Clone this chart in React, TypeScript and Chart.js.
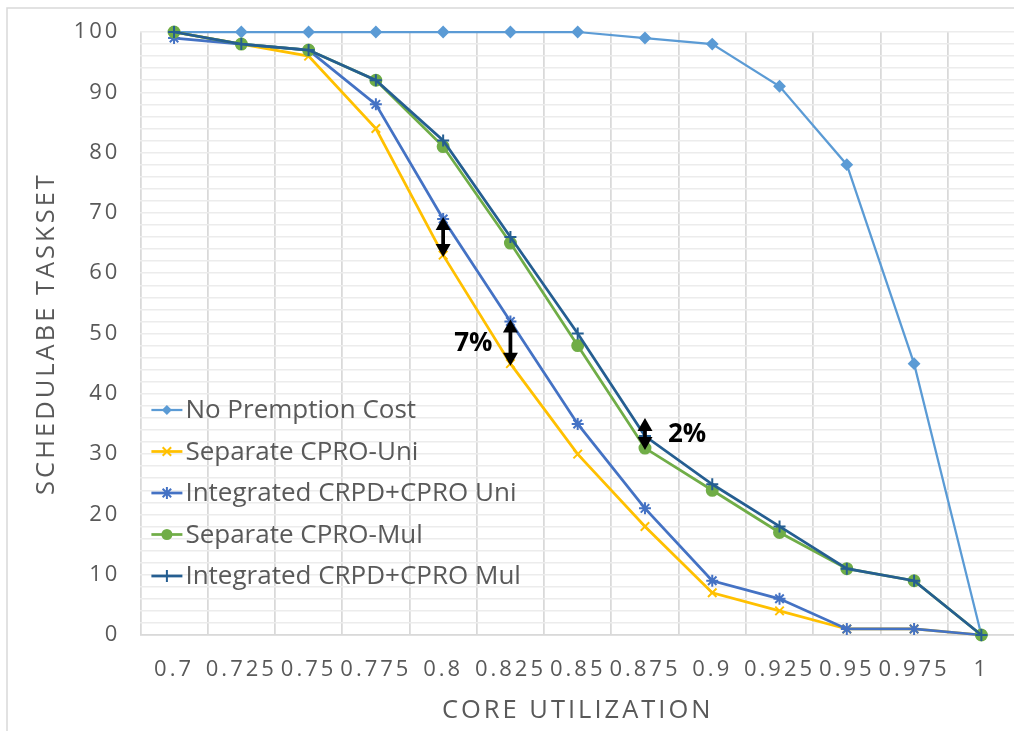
import { useEffect, useRef } from 'react';
import { Chart, registerables } from 'chart.js';

Chart.register(...registerables);

// Core utilization categories (x axis)
const utilization = ['0.7', '0.725', '0.75', '0.775', '0.8', '0.825', '0.85', '0.875', '0.9', '0.925', '0.95', '0.975', '1'];

// Schedulable tasksets (%) per method
const noPreemption = [100, 100, 100, 100, 100, 100, 100, 99, 98, 91, 78, 45, 0];
const separateUni = [100, 98, 96, 84, 63, 45, 30, 18, 7, 4, 1, 1, 0];
const integratedUni = [99, 98, 97, 88, 69, 52, 35, 21, 9, 6, 1, 1, 0];
const separateMul = [100, 98, 97, 92, 81, 65, 48, 31, 24, 17, 11, 9, 0];
const integratedMul = [100, 98, 97, 92, 82, 66, 50, 33, 25, 18, 11, 9, 0];

// Y axis range and labelled tick interval; grid every 2
const yMin = 0;
const yMax = 100;
const yLabelStep = 10;
const yGridStep = 2;

// Gap markers: category index, upper series, lower series, label side (0 = no label)
const gapIndex = [4, 5, 7];
const gapUpper = [integratedUni, integratedUni, integratedMul];
const gapLower = [separateUni, separateUni, separateMul];
const gapLabelSide = [0, -1, 1];

const FONT = "'Open Sans', 'DejaVu Sans', sans-serif";
const TEXT = '#595959';
const AXIS_SPACING = '3px';

function drawMarker(ctx: CanvasRenderingContext2D, style: string, x: number, y: number, r: number, color: string) {
  ctx.save();
  ctx.fillStyle = color;
  ctx.strokeStyle = color;
  ctx.lineWidth = 2;
  ctx.beginPath();
  if (style === 'rectRot') {
    ctx.moveTo(x, y - r);
    ctx.lineTo(x + r, y);
    ctx.lineTo(x, y + r);
    ctx.lineTo(x - r, y);
    ctx.closePath();
    ctx.fill();
  } else if (style === 'circle') {
    ctx.arc(x, y, r, 0, Math.PI * 2);
    ctx.fill();
  } else {
    const d = r * Math.SQRT1_2;
    if (style === 'cross' || style === 'star') {
      ctx.moveTo(x - r, y);
      ctx.lineTo(x + r, y);
      ctx.moveTo(x, y - r);
      ctx.lineTo(x, y + r);
    }
    if (style === 'crossRot' || style === 'star') {
      ctx.moveTo(x - d, y - d);
      ctx.lineTo(x + d, y + d);
      ctx.moveTo(x - d, y + d);
      ctx.lineTo(x + d, y - d);
    }
    ctx.stroke();
  }
  ctx.restore();
}

function drawDoubleArrow(ctx: CanvasRenderingContext2D, x: number, top: number, bottom: number) {
  const headLen = 13;
  const headHalf = 7.5;
  ctx.save();
  ctx.fillStyle = '#000000';
  ctx.strokeStyle = '#000000';
  ctx.lineWidth = 3.75;
  ctx.beginPath();
  ctx.moveTo(x, top + headLen - 1);
  ctx.lineTo(x, bottom - headLen + 1);
  ctx.stroke();
  ctx.beginPath();
  ctx.moveTo(x, top);
  ctx.lineTo(x + headHalf, top + headLen);
  ctx.lineTo(x - headHalf, top + headLen);
  ctx.closePath();
  ctx.fill();
  ctx.beginPath();
  ctx.moveTo(x, bottom);
  ctx.lineTo(x + headHalf, bottom - headLen);
  ctx.lineTo(x - headHalf, bottom - headLen);
  ctx.closePath();
  ctx.fill();
  ctx.restore();
}

function setSpacing(chart: any, v: string) {
  const ctx = chart.ctx as any;
  if (ctx && 'letterSpacing' in ctx) ctx.letterSpacing = v;
}

const frameAndOverlay = {
  id: 'frameAndOverlay',
  beforeLayout(chart: any) {
    setSpacing(chart, AXIS_SPACING);
  },
  beforeDraw(chart: any) {
    const ctx = chart.ctx as CanvasRenderingContext2D;
    ctx.save();
    ctx.fillStyle = '#ffffff';
    ctx.fillRect(0, 0, chart.width, chart.height);
    ctx.strokeStyle = '#d9d9d9';
    ctx.lineWidth = 1.5;
    ctx.beginPath();
    ctx.moveTo(7, chart.height + 5);
    ctx.lineTo(7, 8);
    ctx.lineTo(chart.width + 5, 8);
    ctx.stroke();
    ctx.restore();
    setSpacing(chart, AXIS_SPACING);
  },
  afterDraw(chart: any) {
    const ctx = chart.ctx as CanvasRenderingContext2D;
    setSpacing(chart, '0px');
    const xs = chart.scales.x;
    const ys = chart.scales.y;
    const area = chart.chartArea;

    // Gap arrows with percentage labels
    gapIndex.forEach((idx, i) => {
      const x = xs.getPixelForValue(idx);
      const yU = ys.getPixelForValue(gapUpper[i][idx]);
      const yL = ys.getPixelForValue(gapLower[i][idx]);
      const bottom = yL + 2;
      const top = Math.min(yU - 2, bottom - 32);
      drawDoubleArrow(ctx, x, top, bottom);
      const side = gapLabelSide[i];
      if (side !== 0) {
        const label = `${gapUpper[i][idx] - gapLower[i][idx]}%`;
        ctx.save();
        ctx.font = `bold 26px ${FONT}`;
        ctx.fillStyle = '#000000';
        ctx.textBaseline = 'middle';
        ctx.textAlign = side < 0 ? 'right' : 'left';
        ctx.fillText(label, x + side * (side < 0 ? 18 : 23), (top + bottom) / 2 + 1);
        ctx.restore();
      }
    });

    // Legend inside the plot, lower left
    const rowGap = 41.5;
    const firstRow = area.bottom - 225;
    chart.data.datasets.forEach((ds: any, i: number) => {
      const y = firstRow + i * rowGap;
      const x0 = area.left + 11;
      const x1 = area.left + 42;
      ctx.save();
      ctx.strokeStyle = ds.borderColor;
      ctx.lineWidth = ds.borderWidth;
      ctx.beginPath();
      ctx.moveTo(x0, y);
      ctx.lineTo(x1, y);
      ctx.stroke();
      ctx.restore();
      drawMarker(ctx, ds.pointStyle, (x0 + x1) / 2, y, ds.pointRadius, ds.borderColor);
      ctx.save();
      ctx.font = `26px ${FONT}`;
      ctx.fillStyle = TEXT;
      ctx.textBaseline = 'middle';
      ctx.textAlign = 'left';
      ctx.fillText(ds.label, x1 + 3, y + 1);
      ctx.restore();
    });
  },
};

export default function App() {
  const canvasRef = useRef<HTMLCanvasElement | null>(null);

  useEffect(() => {
    const canvas = canvasRef.current;
    if (!canvas) return;

    const series = [
      { label: 'No Premption Cost', data: noPreemption, color: '#5B9BD5', style: 'rectRot', r: 5, w: 2.25 },
      { label: 'Separate CPRO-Uni', data: separateUni, color: '#FFC000', style: 'crossRot', r: 6, w: 2.75 },
      { label: 'Integrated CRPD+CPRO Uni', data: integratedUni, color: '#4472C4', style: 'star', r: 6, w: 2.75 },
      { label: 'Separate CPRO-Mul', data: separateMul, color: '#70AD47', style: 'circle', r: 5.5, w: 2.75 },
      { label: 'Integrated CRPD+CPRO Mul', data: integratedMul, color: '#255E91', style: 'cross', r: 6, w: 2.75 },
    ];

    const chart = new Chart(canvas, {
      type: 'line',
      data: {
        labels: utilization,
        datasets: series.map((s, i) => ({
          label: s.label,
          data: s.data,
          borderColor: s.color,
          backgroundColor: s.color,
          borderWidth: s.w,
          pointStyle: s.style as any,
          pointRadius: s.r,
          pointHoverRadius: s.r,
          pointBorderWidth: 2,
          pointBackgroundColor: s.color,
          pointBorderColor: s.color,
          tension: 0,
          clip: false as any,
          order: series.length - i,
        })),
      },
      options: {
        responsive: false,
        animation: false,
        devicePixelRatio: 1,
        layout: { padding: { left: 0, top: 32, right: 0, bottom: 0 } },
        plugins: {
          legend: { display: false },
          tooltip: { enabled: false },
        },
        scales: {
          x: {
            type: 'category',
            offset: true,
            grid: {
              offset: true,
              color: '#d9d9d9',
              lineWidth: 1.75,
              drawTicks: true,
              tickLength: 22,
              tickColor: 'rgba(0,0,0,0)',
            },
            border: { display: true, color: '#d9d9d9', width: 1.75 },
            ticks: { color: TEXT, font: { family: FONT, size: 22 }, padding: 0, maxRotation: 0, autoSkip: false },
            title: {
              display: true,
              text: 'CORE UTILIZATION',
              color: TEXT,
              font: { family: FONT, size: 25.5 },
              padding: { top: 0, bottom: 5 },
            },
            afterFit: (s: any) => { s.height = 96; },
          },
          y: {
            min: yMin,
            max: yMax,
            grid: {
              color: '#ececec',
              lineWidth: 1.5,
              drawTicks: true,
              tickLength: 20,
              tickColor: 'rgba(0,0,0,0)',
            },
            border: { display: false },
            ticks: {
              stepSize: yGridStep,
              autoSkip: false,
              color: TEXT,
              font: { family: FONT, size: 22 },
              padding: 0,
              callback: (v: any) => (Number(v) % yLabelStep === 0 ? String(v) : ''),
            },
            title: {
              display: true,
              text: 'SCHEDULABE TASKSET',
              color: TEXT,
              font: { family: FONT, size: 25.5 },
              padding: { top: 31, bottom: 0 },
            },
            afterFit: (s: any) => { s.width = 140.4; },
          },
        },
      },
      plugins: [frameAndOverlay],
    });

    return () => chart.destroy();
  }, []);

  return (
    <div style={{ position: 'fixed', left: 0, top: 0, width: 1014, height: 731, overflow: 'hidden', background: '#ffffff' }}>
      <canvas ref={canvasRef} width={1023} height={731} style={{ display: 'block', width: 1023, height: 731 }} />
    </div>
  );
}
